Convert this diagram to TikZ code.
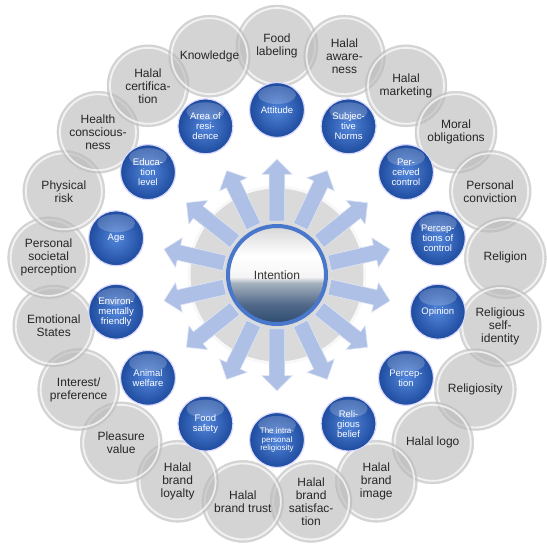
\documentclass[tikz,border=0pt]{standalone}
\usepackage{fontspec}
\setmainfont{Liberation Sans}
\usetikzlibrary{shapes.arrows}

\definecolor{factorgray}{HTML}{B8B8B8}
\definecolor{ballin}{HTML}{5286DB}
\definecolor{ballout}{HTML}{1E4B9E}
\definecolor{arrowblue}{HTML}{AFC0E6}
\definecolor{ringblue}{HTML}{4877CC}
\definecolor{hubgray}{HTML}{DADADA}
\definecolor{inttop}{HTML}{D6D6D6}
\definecolor{intmid}{HTML}{A7B2BF}
\definecolor{intlow}{HTML}{51698A}
\definecolor{intbot}{HTML}{2B4A6E}
\pgfdeclareverticalshading{intentshade}{100bp}{color(0bp)=(intbot); color(25bp)=(intbot); color(35bp)=(intlow); color(46bp)=(intmid); color(49bp)=(white!96!black); color(60bp)=(white); color(75bp)=(inttop); color(100bp)=(inttop)}

\begin{document}
\begin{tikzpicture}[
	factor/.style={circle, minimum size=82pt, inner sep=0pt, align=center,
		fill=factorgray, fill opacity=0.6, text opacity=1, draw=gray!40, draw opacity=0.8, line width=0.5pt,
		path picture={\draw[white, line width=1.8pt, opacity=0.7] (path picture bounding box.center) circle (38pt);},
		text=black!85, font=\fontsize{12}{13}\selectfont},
	driver/.style={circle, minimum size=55pt, inner sep=0pt, align=center,
		shading=radial, inner color=ballin, outer color=ballout, draw=white!85!blue, line width=1.2pt,
		path picture={\fill[white, opacity=0.2] ([yshift=15pt]path picture bounding box.center) ellipse (19pt and 9pt);},
		text=white, font=\fontsize{9.5}{10}\selectfont},
	blockarrow/.style={single arrow, minimum height=62pt, single arrow head extend=7.5pt,
		inner xsep=0pt, inner ysep=7.5pt, fill=arrowblue, draw=white!60!arrowblue, line width=0.6pt}]
	\useasboundingbox (-277pt,-275pt) rectangle (270pt,275pt);

	% Outer factors, 21 at 360/21 degrees
	\node [factor] (o1)  at (90:229pt)     {Food\\labeling};
	\node [factor] (o2)  at (72.86:229pt)  {Halal\\aware-\\ness};
	\node [factor] (o3)  at (55.71:229pt)  {Halal\\marketing};
	\node [factor] (o4)  at (38.57:229pt)  {Moral\\obligations};
	\node [factor] (o5)  at (21.43:229pt)  {Personal\\conviction};
	\node [factor] (o6)  at (4.29:229pt)   {Religion};
	\node [factor] (o7)  at (-12.86:229pt) {Religious\\self-\\identity};
	\node [factor] (o8)  at (-30:229pt)    {Religiosity};
	\node [factor] (o9)  at (-47.14:229pt) {Halal logo};
	\node [factor] (o10) at (-64.29:229pt) {Halal\\brand\\image};
	\node [factor] (o11) at (-81.43:229pt) {Halal\\brand\\satisfac-\\tion};
	\node [factor] (o12) at (-98.57:229pt) {Halal\\brand trust};
	\node [factor] (o13) at (-115.71:229pt) {Halal\\brand\\loyalty};
	\node [factor] (o14) at (-132.86:229pt) {Pleasure\\value};
	\node [factor] (o15) at (-150:229pt)   {Interest/\\preference};
	\node [factor] (o16) at (-167.14:229pt) {Emotional\\States};
	\node [factor] (o17) at (175.71:229pt) {Personal\\societal\\perception};
	\node [factor] (o18) at (158.57:229pt) {Physical\\risk};
	\node [factor] (o19) at (141.43:229pt) {Health\\conscious-\\ness};
	\node [factor] (o20) at (124.29:229pt) {Halal\\certifica-\\tion};
	\node [factor] (o21) at (107.14:229pt) {Knowledge};

	% Inner drivers, 14 at 360/14 degrees
	\node [driver] (i1)  at (90:165pt)     {Attitude};
	\node [driver] (i2)  at (64.29:165pt)  {Subjec-\\tive\\Norms};
	\node [driver] (i3)  at (38.57:165pt)  {Per-\\ceived\\control};
	\node [driver] (i4)  at (12.86:165pt)  {Percep-\\tions of\\control};
	\node [driver] (i5)  at (-12.86:165pt) {Opinion};
	\node [driver] (i6)  at (-38.57:165pt) {Percep-\\tion};
	\node [driver] (i7)  at (-64.29:165pt) {Reli-\\gious\\belief};
	\node [driver, font=\fontsize{8}{8.5}\selectfont] (i8) at (-90:165pt) {The intra-\\personal\\religiosity};
	\node [driver] (i9)  at (-115.71:165pt) {Food\\safety};
	\node [driver] (i10) at (-141.43:165pt) {Animal\\welfare};
	\node [driver] (i11) at (-167.14:165pt) {Environ-\\mentally\\friendly};
	\node [driver] (i12) at (167.14:165pt) {Age};
	\node [driver] (i13) at (141.43:165pt) {Educa-\\tion\\level};
	\node [driver] (i14) at (115.71:165pt) {Area of\\resi-\\dence};

	% Hub disc behind the arrows
	\node [circle, minimum size=176pt, fill=hubgray, draw=white!80!hubgray, line width=3pt] (hub) at (0,0) {};

	% Arrows out of the hub
	\node [blockarrow, rotate=90]      (a1)  at (90:81pt) {};
	\node [blockarrow, rotate=64.29]   (a2)  at (64.29:81pt) {};
	\node [blockarrow, rotate=38.57]   (a3)  at (38.57:81pt) {};
	\node [blockarrow, rotate=12.86]   (a4)  at (12.86:81pt) {};
	\node [blockarrow, rotate=-12.86]  (a5)  at (-12.86:81pt) {};
	\node [blockarrow, rotate=-38.57]  (a6)  at (-38.57:81pt) {};
	\node [blockarrow, rotate=-64.29]  (a7)  at (-64.29:81pt) {};
	\node [blockarrow, rotate=-90]     (a8)  at (-90:81pt) {};
	\node [blockarrow, rotate=-115.71] (a9)  at (-115.71:81pt) {};
	\node [blockarrow, rotate=-141.43] (a10) at (-141.43:81pt) {};
	\node [blockarrow, rotate=-167.14] (a11) at (-167.14:81pt) {};
	\node [blockarrow, rotate=167.14]  (a12) at (167.14:81pt) {};
	\node [blockarrow, rotate=141.43]  (a13) at (141.43:81pt) {};
	\node [blockarrow, rotate=115.71]  (a14) at (115.71:81pt) {};

	% Centre
	\node [circle, minimum size=98pt, inner sep=0pt, shading=intentshade, draw=ringblue, line width=4pt,
		text=black!80, font=\fontsize{12}{13}\selectfont] (intent) at (0,0) {Intention};
\end{tikzpicture}
\end{document}
